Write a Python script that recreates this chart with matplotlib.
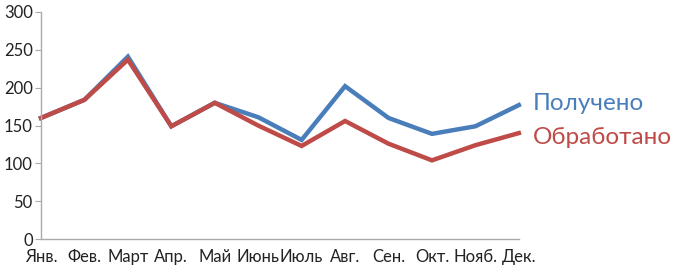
import matplotlib
matplotlib.use('Agg')
import matplotlib.pyplot as plt

plt.rcParams['font.family'] = ['Lato', 'DejaVu Sans']

months = ['Янв.', 'Фев.', 'Март', 'Апр.', 'Май', 'Июнь', 'Июль',
          'Авг.', 'Сен.', 'Окт.', 'Нояб.', 'Дек.']
received = [160, 184, 241, 149, 180, 161, 131, 202, 160, 139, 149, 177]
processed = [160, 184, 237, 149, 180, 150, 123, 156, 126, 104, 124, 140]
yticks = [0, 50, 100, 150, 200, 250, 300]

blue = '#4a7ebb'
red = '#be4b48'

fig = plt.figure(figsize=(6.8, 2.72), dpi=100)
ax = fig.add_axes([0.0603, 0.121, 0.7027, 0.835])

x = list(range(len(months)))
ax.plot(x, received, color=blue, lw=3.2, solid_joinstyle='miter', clip_on=False)
ax.plot(x, processed, color=red, lw=3.2, solid_joinstyle='miter', clip_on=False)

ax.set_xlim(0, 11)
ax.set_ylim(0, 300)
ax.set_yticks(yticks)
ax.set_xticks(x)
ax.set_xticklabels(months)

for s in ['top', 'right']:
    ax.spines[s].set_visible(False)
for s in ['left', 'bottom']:
    ax.spines[s].set_color('#aaaaaa')
    ax.spines[s].set_linewidth(1)
ax.tick_params(axis='y', length=4, color='#aaaaaa', labelsize=12, pad=2, labelcolor='#222222')
ax.tick_params(axis='x', length=0, labelsize=12, pad=7, labelcolor='#222222')

ax.annotate('Получено', xy=(11, received[-1]), xytext=(10, 1), textcoords='offset points',
            color=blue, fontsize=17.5, va='center', ha='left', annotation_clip=False)
ax.annotate('Обработано', xy=(11, processed[-1]), xytext=(10, -3), textcoords='offset points',
            color=red, fontsize=17.5, va='center', ha='left', annotation_clip=False)

fig.savefig('out.png', dpi=100)
